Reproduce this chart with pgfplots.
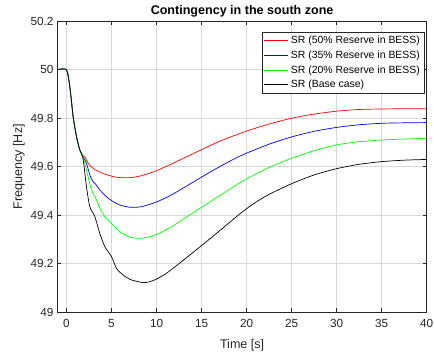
\documentclass[border=0pt]{standalone}
\usepackage{fontspec}
\setmainfont{Liberation Sans}
\usepackage{pgfplots}
\pgfplotsset{compat=1.18}
\begin{document}
\begin{tikzpicture}
\begin{axis}[
  name=ax,
  scale only axis,
  width=369.3bp, height=291.1bp,
  xmin=-1, xmax=40, ymin=49, ymax=50.2,
  xtick={0,5,...,40},
  ytick={49,49.2,49.4,49.6,49.8,50,50.2},
  yticklabels={49,49.2,49.4,49.6,49.8,50,50.2},
  /pgf/number format/assume math mode=true,
  tick label style={font=\fontsize{11.8}{13}\selectfont, text=black!85},
  xticklabel style={yshift=-3.5bp},
  yticklabel style={xshift=-0.5bp},
  label style={font=\fontsize{12.6}{14}\selectfont, text=black!85},
  title style={font=\fontsize{12.6}{14}\selectfont\bfseries, yshift=-5.5bp},
  title={Contingency in the south zone},
  xlabel={Time [s]},
  ylabel={Frequency [Hz]},
  xlabel style={yshift=-5bp},
  ylabel style={yshift=-1bp},
  grid=major,
  major grid style={draw=black!15, line width=0.6bp},
  axis line style={line width=0.7bp, black!85},
  tick style={black!85, line width=0.6bp},
  major tick length=4bp,
  tick align=inside,
  xtick pos=both, ytick pos=both,
  legend style={at={(rel axis cs:1,1)}, anchor=north east, xshift=-2.5bp, yshift=-10.8bp,
    font=\fontsize{10.5}{12}\selectfont, draw=black!85, line width=0.6bp,
    row sep=1.6bp, inner sep=2bp},
  legend cell align=left,
  legend image code/.code={\draw[#1, line width=0.8bp] (0bp,0bp) -- (24bp,0bp);},
  every axis plot/.append style={line width=0.7bp},
]
\addplot[red, smooth, tension=0.4] coordinates {
(-1,50)(0,50)(0.37,49.93)(0.74,49.806)(1.11,49.724)(1.48,49.669)(1.85,49.645)
(2.04,49.64)(2.3,49.622)(2.6,49.605)(3.0,49.592)(3.4,49.584)(4.07,49.572)(5.2,49.559)
(6.0,49.555)(7.0,49.555)(8.0,49.56)(9.6,49.578)(11,49.60)(12.6,49.628)(14.8,49.667)
(17,49.705)(20,49.747)(22.5,49.776)(25,49.80)(27.5,49.817)(30,49.829)(32.5,49.836)
(35,49.838)(37.5,49.839)(40,49.839)};
\addlegendentry{SR (50\% Reserve in BESS)}
\addplot[blue, smooth, tension=0.4] coordinates {
(-1,50)(0,50)(0.37,49.93)(0.74,49.806)(1.11,49.724)(1.48,49.669)(1.85,49.641)
(2.22,49.614)(2.59,49.566)(2.96,49.538)(3.3,49.525)(3.7,49.504)(4.44,49.476)(5.18,49.456)
(5.92,49.442)(7.0,49.433)(8.15,49.434)(9.26,49.445)(10,49.455)(11,49.471)(12,49.491)
(13,49.513)(14,49.535)(15,49.557)(16,49.579)(17,49.600)(18,49.620)(19,49.639)(20,49.656)
(22.5,49.693)(25,49.723)(27.5,49.746)(30,49.762)(32.5,49.773)(35,49.779)(37.5,49.781)(40,49.782)};
\addlegendentry{SR (35\% Reserve in BESS)}
\addplot[green, smooth, tension=0.4] coordinates {
(-1,50)(0,50)(0.37,49.93)(0.74,49.806)(1.11,49.724)(1.48,49.669)(1.85,49.641)
(2.04,49.614)(2.4,49.559)(2.78,49.504)(3.33,49.463)(3.89,49.414)(4.44,49.387)(5.18,49.36)
(5.92,49.332)(7.03,49.309)(8.15,49.305)(9.26,49.311)(10.2,49.324)(11.1,49.341)
(12.2,49.365)(13.3,49.392)(14.8,49.428)(16.3,49.464)(18,49.505)(20,49.55)(22.5,49.597)
(25,49.635)(27.5,49.666)(30,49.69)(32.5,49.703)(35,49.71)(37.5,49.714)(40,49.717)};
\addlegendentry{SR (20\% Reserve in BESS)}
\addplot[black, smooth, tension=0.4] coordinates {
(-1,50)(0,50)(0.37,49.93)(0.74,49.806)(1.11,49.724)(1.48,49.669)(1.85,49.63)
(2.22,49.517)(2.59,49.435)(3.15,49.394)(3.7,49.325)(4.26,49.27)(5.0,49.229)(5.55,49.181)
(6.3,49.153)(7.22,49.133)(8.5,49.122)(9.26,49.126)(10,49.137)(11,49.158)(12,49.186)
(13,49.215)(14,49.245)(15,49.275)(16,49.305)(17,49.336)(18,49.367)(19,49.398)(20,49.427)
(21,49.453)(22.5,49.486)(25,49.530)(27.5,49.566)(30,49.592)(32.5,49.61)(35,49.621)
(37.5,49.627)(40,49.630)};
\addlegendentry{SR (Base case)}
\end{axis}
\pgfresetboundingbox
\useasboundingbox (-57.5bp,-39.7bp) rectangle (376.6bp,312.3bp);
\end{tikzpicture}
\end{document}
